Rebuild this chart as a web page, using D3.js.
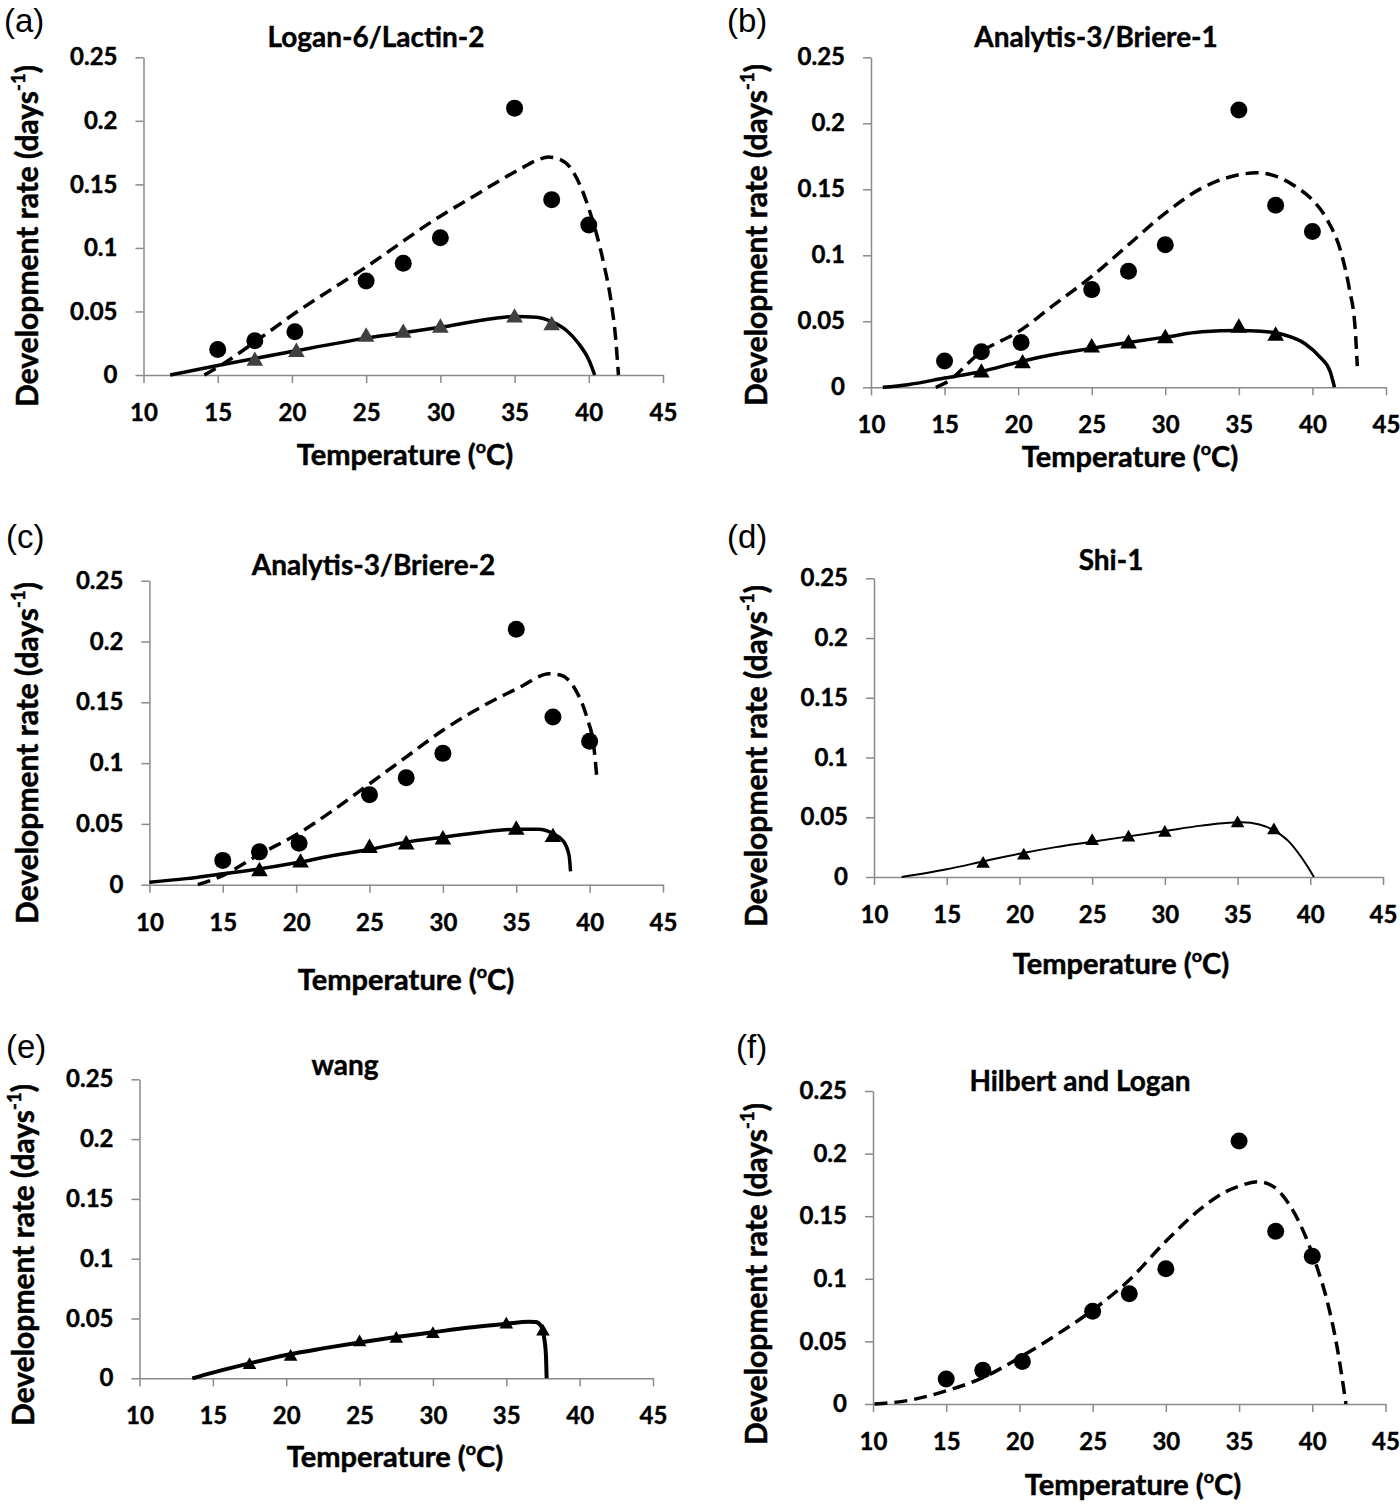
<!doctype html>
<html>
<head>
<meta charset="utf-8">
<title>Development rate models</title>
<script src="https://cdnjs.cloudflare.com/ajax/libs/d3/7.8.5/d3.min.js"></script>
<style>
  body { margin: 0; background: #fff; }
  svg { display: block; }
  .tick text { font-family: Lato, sans-serif; font-weight: bold; fill: #000; stroke: #000; stroke-width: 0.4; }
</style>
</head>
<body>
<div id="chart"></div>
<script>
// ticks shared by every panel
const xTicks = [10, 15, 20, 25, 30, 35, 40, 45];
const yTicks = [0, 0.05, 0.1, 0.15, 0.2, 0.25];
const yTickLabels = ["0", "0.05", "0.1", "0.15", "0.2", "0.25"];

// observed rates (circles = dashed series, triangles = solid series)
const circleTemps = [15, 17.5, 20.2, 25, 27.5, 30, 35, 37.5, 40];
const circleRates = [0.020, 0.027, 0.034, 0.074, 0.088, 0.108, 0.210, 0.138, 0.118];
const triangleTemps = [17.5, 20.3, 25, 27.5, 30, 35, 37.5];
const triangleRates = [0.011, 0.018, 0.030, 0.033, 0.037, 0.045, 0.039];

// fitted curves, [temperature, rate]
const dashedA = [[14.1,0],[15,0.006],[17.5,0.026],[20,0.047],[25,0.085],[30,0.125],[32,0.139],[34,0.153],[35.5,0.163],[36.5,0.169],[37.3,0.1715],[38,0.17],[38.7,0.164],[39.5,0.147],[40,0.131],[40.5,0.112],[41,0.088],[41.5,0.058],[41.8,0.03],[42,0]];
const solidA = [[11.8,0],[15,0.0075],[20,0.0185],[25,0.029],[30,0.0375],[33,0.0435],[35,0.046],[36.5,0.0455],[37.5,0.042],[38.5,0.035],[39.3,0.025],[40,0.012],[40.4,0]];

const dashedB = [[14.4,0],[15,0.003],[17.5,0.027],[20,0.042],[22.5,0.063],[25,0.084],[27.5,0.108],[30,0.132],[32.5,0.151],[35,0.161],[36.2,0.1625],[37.5,0.16],[39,0.151],[40,0.142],[41,0.127],[42,0.1],[42.5,0.075],[42.9,0.045],[43.05,0.016]];
const solidB = [[10.8,0],[12.5,0.002],[15,0.007],[17.5,0.012],[20,0.019],[22.5,0.025],[25,0.0295],[27.5,0.034],[30,0.038],[32.5,0.042],[35,0.043],[36.5,0.0425],[38,0.04],[39.5,0.033],[40.5,0.023],[41.2,0.012],[41.5,0]];

const dashedC = [[13.3,0],[15,0.0075],[17.5,0.025],[20,0.041],[22.5,0.061],[25,0.083],[27.5,0.105],[30,0.127],[32,0.142],[34,0.155],[35.5,0.164],[36.5,0.171],[37.2,0.1735],[38,0.1725],[39,0.161],[39.8,0.138],[40.3,0.112],[40.5,0.087]];
const solidC = [[10,0.002],[12.5,0.005],[15,0.009],[17.5,0.013],[20,0.018],[22.5,0.024],[25,0.029],[27.5,0.035],[30,0.039],[32.5,0.043],[35,0.0455],[36.5,0.0455],[37.5,0.042],[38.2,0.036],[38.6,0.024],[38.7,0.011]];

const solidD = [[11.9,0],[15,0.0065],[17.5,0.013],[20,0.0195],[22.5,0.025],[25,0.0295],[27.5,0.034],[30,0.0385],[32.5,0.043],[34,0.045],[35.3,0.0458],[36.5,0.044],[37.5,0.039],[38.5,0.03],[39.3,0.018],[39.8,0.009],[40.25,0]];

const solidE = [[13.6,0],[15,0.0048],[17.5,0.0125],[20,0.0195],[22.5,0.025],[25,0.03],[27.5,0.0345],[30,0.0385],[32.5,0.0425],[35,0.0455],[36.5,0.0472],[37,0.047],[37.35,0.044],[37.55,0.036],[37.7,0.02],[37.75,0]];

const dashedF = [[10.1,0],[12.5,0.003],[15,0.0105],[17.5,0.021],[20,0.037],[22.5,0.055],[25,0.075],[27.5,0.099],[30,0.13],[32.5,0.157],[34,0.169],[35,0.174],[36.3,0.1775],[37.3,0.174],[38.5,0.158],[39.5,0.135],[40.3,0.11],[41,0.083],[41.7,0.045],[42.3,0]];

const panelLetters = ["(a)", "(b)", "(c)", "(d)", "(e)", "(f)"];
const panelTitles = ["Logan-6/Lactin-2", "Analytis-3/Briere-1", "Analytis-3/Briere-2", "Shi-1", "wang", "Hilbert and Logan"];

// where each panel sits on the page
const panels = [
  { dashed: dashedA, solid: solidA, circles: true, triangles: true, triFill: "#404040",
    left: 143.5, right: 663, top: 57.3, bottom: 375,
    titleX: 376, titleY: 47, labX: 4, labY: 32, xTitleX: 405, xTitleY: 465, yTitleX: 38, yTitleY: 236 },
  { dashed: dashedB, solid: solidB, circles: true, triangles: true,
    left: 871, right: 1386, top: 57.3, bottom: 387.3,
    titleX: 1096, titleY: 47, labX: 727, labY: 32, xTitleX: 1130, xTitleY: 467, yTitleX: 767, yTitleY: 235 },
  { dashed: dashedC, solid: solidC, circles: true, triangles: true,
    left: 149.4, right: 663, top: 580.7, bottom: 884.7,
    titleX: 373.5, titleY: 575, labX: 6, labY: 548, xTitleX: 406, xTitleY: 990, yTitleX: 38, yTitleY: 753 },
  { dashed: null, solid: solidD, circles: false, triangles: true, lineW: 2, triSize: 80,
    left: 874, right: 1383, top: 578.3, bottom: 877,
    titleX: 1111, titleY: 570, labX: 727, labY: 548, xTitleX: 1121, xTitleY: 974, yTitleX: 767, yTitleY: 756 },
  { dashed: null, solid: solidE, circles: false, triangles: true, lineW: 4, triSize: 80,
    left: 139.5, right: 653, top: 1079.3, bottom: 1378.3,
    titleX: 345, titleY: 1075, labX: 6, labY: 1058, xTitleX: 395, xTitleY: 1467, yTitleX: 34, yTitleY: 1255 },
  { dashed: dashedF, solid: null, circles: true, triangles: false,
    left: 873, right: 1385.5, top: 1091, bottom: 1404,
    titleX: 1080, titleY: 1091, labX: 736, labY: 1058, xTitleX: 1133, xTitleY: 1495, yTitleX: 767, yTitleY: 1274 }
];

const svg = d3.select("#chart").append("svg")
  .attr("width", 1400)
  .attr("height", 1506);

const font = "Lato, sans-serif";

// text with superscript parts, e.g. days-1 and oC
function supText(sel, parts, size) {
  parts.forEach((p, i) => {
    const t = sel.append("tspan").text(p.t);
    if (p.sup) {
      t.attr("font-size", size * 0.62).attr("dy", -size * 0.42);
    } else if (i > 0 && parts[i - 1].sup) {
      t.attr("dy", size * 0.42);
    }
  });
}

panels.forEach((p, k) => {
  const g = svg.append("g");

  const x = d3.scaleLinear().domain([10, 45]).range([p.left, p.right]);
  const y = d3.scaleLinear().domain([0, 0.25]).range([p.bottom, p.top]);

  const xAxis = g.append("g")
    .attr("transform", `translate(0,${p.bottom})`)
    .call(d3.axisBottom(x).tickValues(xTicks).tickSize(8).tickSizeOuter(0).tickPadding(21));
  const yAxis = g.append("g")
    .attr("transform", `translate(${p.left},0)`)
    .call(d3.axisLeft(y).tickValues(yTicks).tickFormat((d, i) => yTickLabels[i])
      .tickSize(8).tickSizeOuter(0).tickPadding(18));

  [xAxis, yAxis].forEach(a => {
    a.select(".domain").attr("stroke", "#8a8a8a").attr("stroke-width", 1.5);
    a.selectAll(".tick line").attr("stroke", "#8a8a8a").attr("stroke-width", 1.5);
    a.selectAll(".tick text").attr("font-size", 24);
  });

  const line = d3.line()
    .x(d => x(d[0]))
    .y(d => y(d[1]))
    .curve(d3.curveMonotoneX);

  if (p.solid) {
    g.append("path")
      .attr("d", line(p.solid))
      .attr("fill", "none")
      .attr("stroke", "#000")
      .attr("stroke-width", p.lineW || 3.5);
  }
  if (p.dashed) {
    g.append("path")
      .attr("d", line(p.dashed))
      .attr("fill", "none")
      .attr("stroke", "#000")
      .attr("stroke-width", 3.5)
      .attr("stroke-dasharray", "13,7");
  }

  if (p.circles) {
    g.selectAll("circle.obs")
      .data(circleTemps)
      .join("circle")
      .attr("class", "obs")
      .attr("cx", d => x(d))
      .attr("cy", (d, i) => y(circleRates[i]))
      .attr("r", 8.5)
      .attr("fill", "#000");
  }
  if (p.triangles) {
    const tri = d3.symbol().type(d3.symbolTriangle).size(p.triSize || 120);
    g.selectAll("path.tri")
      .data(triangleTemps)
      .join("path")
      .attr("class", "tri")
      .attr("d", tri)
      .attr("transform", (d, i) => `translate(${x(d)},${y(triangleRates[i])})`)
      .attr("fill", p.triFill || "#000");
  }

  // panel letter
  g.append("text")
    .attr("x", p.labX)
    .attr("y", p.labY)
    .attr("font-family", "'Liberation Sans', Arial, sans-serif")
    .attr("font-size", 33)
    .text(panelLetters[k]);

  // panel title
  g.append("text")
    .attr("x", p.titleX)
    .attr("y", p.titleY)
    .attr("text-anchor", "middle")
    .attr("font-family", font)
    .attr("font-weight", "bold")
    .attr("font-size", 28)
    .attr("stroke", "#000")
    .attr("stroke-width", 0.4)
    .text(panelTitles[k]);

  // x axis title
  const xt = g.append("text")
    .attr("x", p.xTitleX)
    .attr("y", p.xTitleY)
    .attr("text-anchor", "middle")
    .attr("font-family", font)
    .attr("font-weight", "bold")
    .attr("font-size", 29)
    .attr("stroke", "#000")
    .attr("stroke-width", 0.5);
  supText(xt, [{ t: "Temperature (" }, { t: "o", sup: true }, { t: "C)" }], 29);

  // y axis title
  const yt = g.append("text")
    .attr("transform", `translate(${p.yTitleX},${p.yTitleY}) rotate(-90)`)
    .attr("text-anchor", "middle")
    .attr("font-family", font)
    .attr("font-weight", "bold")
    .attr("font-size", 30)
    .attr("stroke", "#000")
    .attr("stroke-width", 0.5);
  supText(yt, [{ t: "Development rate (days" }, { t: "-1", sup: true }, { t: ")" }], 30);
});
</script>
</body>
</html>
